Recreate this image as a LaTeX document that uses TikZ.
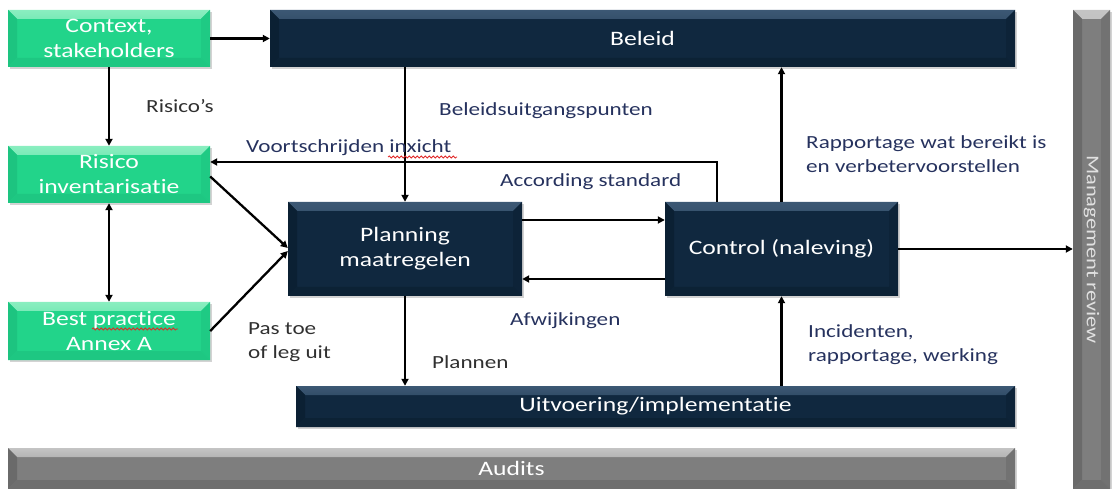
\documentclass[tikz,border=0pt]{standalone}
\usepackage{fontspec}
\setmainfont{Carlito}[FakeStretch=1.25, Ligatures=CommonOff]
\usetikzlibrary{arrows.meta,shadows,decorations.pathmorphing}

\definecolor{grnMain}{HTML}{22D48A}
\definecolor{grnTop}{HTML}{8AEEC0}
\definecolor{grnSide}{HTML}{1DC480}
\definecolor{navMain}{HTML}{10283F}
\definecolor{navTop}{HTML}{3C5874}
\definecolor{navSide}{HTML}{0B2033}
\definecolor{gryMain}{HTML}{7E7E7E}
\definecolor{gryTop}{HTML}{C4C4C4}
\definecolor{grySide}{HTML}{6A6A6A}
\definecolor{lblBlue}{HTML}{26325E}
\definecolor{lblDark}{HTML}{303030}
\definecolor{squig}{HTML}{E02828}

\newcommand{\bvw}{9pt}

\tikzset{
  % bevelled block: main fill, lighter top band, darker side/bottom bands
  bevelbox/.style n args={3}{
    draw=none, fill=#1, text=white, align=center,
    inner sep=0pt,
    drop shadow={opacity=0.35, shadow xshift=1.5pt, shadow yshift=-2pt},
    path picture={
      \shade[top color=#2, bottom color=#1]
        (path picture bounding box.north west) -- (path picture bounding box.north east)
        -- ([shift={(-\bvw,-\bvw)}]path picture bounding box.north east)
        -- ([shift={(\bvw,-\bvw)}]path picture bounding box.north west) -- cycle;
      \fill[#3]
        (path picture bounding box.north west) -- ([shift={(\bvw,-\bvw)}]path picture bounding box.north west)
        -- ([shift={(\bvw,\bvw)}]path picture bounding box.south west)
        -- (path picture bounding box.south west) -- cycle;
      \fill[#3!60!#1]
        (path picture bounding box.north east) -- ([shift={(-\bvw,-\bvw)}]path picture bounding box.north east)
        -- ([shift={(-\bvw,\bvw)}]path picture bounding box.south east)
        -- (path picture bounding box.south east) -- cycle;
      \fill[#3!80!#1]
        (path picture bounding box.south west) -- ([shift={(\bvw,\bvw)}]path picture bounding box.south west)
        -- ([shift={(-\bvw,\bvw)}]path picture bounding box.south east)
        -- (path picture bounding box.south east) -- cycle;
    },
    font=\fontsize{20.5}{25}\selectfont
  },
  greenbox/.style={bevelbox={grnMain}{grnTop}{grnSide}},
  navybox/.style={bevelbox={navMain}{navTop}{navSide}},
  graybox/.style={bevelbox={gryMain}{gryTop}{grySide}},
  arr/.style={line width=2.3pt, -{Triangle[length=7pt,width=7pt]}},
  biarr/.style={line width=2.3pt, {Triangle[length=7pt,width=7pt]}-{Triangle[length=7pt,width=7pt]}},
  lbl/.style={text=lblBlue, align=left, anchor=west, inner sep=0pt,
    font=\fontsize{18.5}{24}\selectfont},
  lbldark/.style={lbl, text=lblDark},
  spell/.style={squig, line width=0.8pt,
    decorate, decoration={snake, segment length=4pt, amplitude=1pt}}
}

\begin{document}
\begin{tikzpicture}[x=1pt,y=-1pt]
\useasboundingbox (0,0) rectangle (1112,489);

% blocks
\node[greenbox, minimum width=202pt, minimum height=57pt] (ctx) at (109,38.5) {Context,\\stakeholders};
\node[navybox, minimum width=745pt, minimum height=57pt] (bel) at (642.5,38.5) {Beleid};
\node[greenbox, minimum width=202pt, minimum height=57pt] (ris) at (109,174.5) {Risico\\inventarisatie};
\node[greenbox, minimum width=202pt, minimum height=58pt] (bp) at (109,331) {Best practice\\Annex A};
\node[navybox, minimum width=234pt, minimum height=94pt] (plan) at (405,249) {Planning\\maatregelen};
\node[navybox, minimum width=233pt, minimum height=94pt] (ctrl) at (781.5,249) {Control (naleving)};
\node[navybox, minimum width=719pt, minimum height=41pt] (uit) at (655.5,406.5) {Uitvoering/implementatie};
\node[graybox, minimum width=1007pt, minimum height=41pt] (aud) at (511.5,468.5) {Audits};
\node[graybox, minimum width=37pt, minimum height=479pt] (mr) at (1091.5,249.5) {};
\node[rotate=-90, text=white!88!black, font=\fontsize{18}{22}\selectfont] (mrtxt) at (mr.center) {Management review};

% connectors
\draw[arr] (ctx.east) -- (bel.west);
\draw[arr] (ctx.south) -- (ris.north);
\draw[biarr] (ris.south) -- (bp.north);
\draw[arr] ([yshift=-2pt]ris.east) -- ([yshift=1pt]plan.west);
\draw[arr] (bp.east) -- ([yshift=-2pt]plan.west);
\draw[arr] (plan.north |- bel.south) -- (plan.north);
\coordinate (fb) at (0,162);
\draw[arr] ([xshift=-64.5pt]ctrl.north) |- (ris.east |- fb);
\draw[arr] ([yshift=29pt]plan.east) -- ([yshift=29pt]ctrl.west);
\draw[arr] ([yshift=-30pt]ctrl.west) -- ([yshift=-30pt]plan.east);
\draw[arr] (plan.south) -- (plan.south |- uit.north);
\draw[arr] (uit.north -| ctrl.south) -- (ctrl.south);
\draw[arr] (ctrl.north) -- (ctrl.north |- bel.south);
\draw[arr] (ctrl.east) -- (mr.west |- ctrl.east);

% connector labels
\node[lbldark] (lrisicos) at (146,106) {Risico’s};
\node[lbl] (lbeleid) at (439,111) {Beleidsuitgangspunten};
\node[lbl] (lvoort) at (246,148) {Voortschrijden inxicht};
\node[lbl] (lacc) at (500,182) {According standard};
\node[lbl] (lrapp) at (806,154) {Rapportage wat bereikt is\\en verbetervoorstellen};
\node[lbldark] (lpas) at (248,342) {Pas toe\\of leg uit};
\node[lbl] (lafw) at (510,321) {Afwijkingen};
\node[lbldark] (lplan) at (432,362) {Plannen};
\node[lbl] (linc) at (808,345) {Incidenten,\\rapportage, werking};

% spelling marks
\draw[spell] (92,329) -- (178,329);
\draw[spell] (388,157) -- (457,157);
\end{tikzpicture}
\end{document}
